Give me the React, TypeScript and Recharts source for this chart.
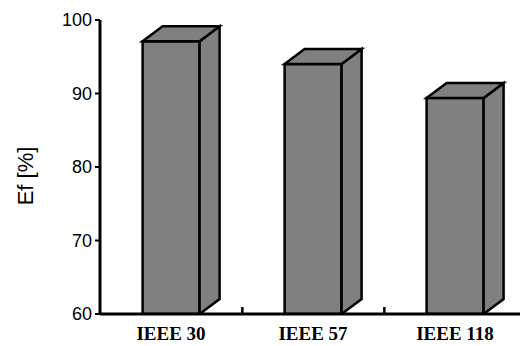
import { BarChart, Bar, XAxis, YAxis } from "recharts";

const systems = ["IEEE 30", "IEEE 57", "IEEE 118"];
const efficiency = [97.1, 94.0, 89.4];
const yTicks = [60, 70, 80, 90, 100];

const data = systems.map((name, i) => ({ name, ef: efficiency[i] }));

const GAP = 0.3; // barCategoryGap as a fraction of the band

// front face + right side + top, like an old 3D column chart
const Box3D = (props: any) => {
  const { x, y, width, height, fill, index } = props;
  const dx = 20;
  const dy = 15;
  const b = y + height;
  const r = x + width;
  // small inward tick between categories on the x axis
  const band = width / (1 - 2 * GAP);
  const bandRight = x + width / 2 + band / 2;
  const key = props.payload?.name ?? props.name;
  const idx = typeof key === "string" ? systems.indexOf(key) : index ?? 0;
  const showDiv = idx >= 0 && idx < systems.length - 1;
  return (
    <g>
      {showDiv && (
        <line x1={bandRight} x2={bandRight} y1={b} y2={b - 7} stroke="#000" strokeWidth={2.5} />
      )}
      <g stroke="#000" strokeWidth={2.5} fill={fill} strokeLinejoin="miter">
        <rect x={x} y={y} width={width} height={height} />
        <polygon points={`${r},${y} ${r + dx},${y - dy} ${r + dx},${b - dy} ${r},${b}`} />
        <polygon points={`${x},${y} ${x + dx},${y - dy} ${r + dx},${y - dy} ${r},${y}`} />
      </g>
    </g>
  );
};

const YLabel = () => (
  <text
    x={0}
    y={0}
    transform="translate(33,176) rotate(-90)"
    textAnchor="middle"
    fontFamily="Liberation Sans, Arial, sans-serif"
    fontSize={22}
    fill="#000"
  >
    Ef [%]
  </text>
);

export default function App() {
  return (
    <div
      style={{
        position: "absolute",
        left: 0,
        top: 0,
        width: 520,
        height: 346,
        overflow: "hidden",
        background: "#fff",
      }}
    >
      <BarChart
        width={530}
        height={346}
        data={data}
        margin={{ top: 20, right: 4, left: 0, bottom: 0 }}
        barCategoryGap={`${GAP * 100}%`}
      >
        <XAxis
          dataKey="name"
          height={32}
          axisLine={{ stroke: "#000", strokeWidth: 3 }}
          tickLine={false}
          tickSize={0}
          tickMargin={13}
          tick={{
            fill: "#000",
            fontSize: 19,
            fontWeight: "bold",
            fontFamily: "Liberation Serif, Times New Roman, serif",
          }}
        />
        <YAxis
          width={100}
          domain={[60, 100]}
          ticks={yTicks}
          allowDataOverflow
          axisLine={{ stroke: "#000", strokeWidth: 3 }}
          tickLine={{ stroke: "#000", strokeWidth: 2 }}
          tickSize={5}
          tickMargin={3}
          tick={{
            fill: "#000",
            fontSize: 18,
            fontFamily: "Liberation Sans, Arial, sans-serif",
          }}
          label={<YLabel />}
        />
        <Bar dataKey="ef" fill="#808080" shape={Box3D} isAnimationActive={false} />
      </BarChart>
    </div>
  );
}
